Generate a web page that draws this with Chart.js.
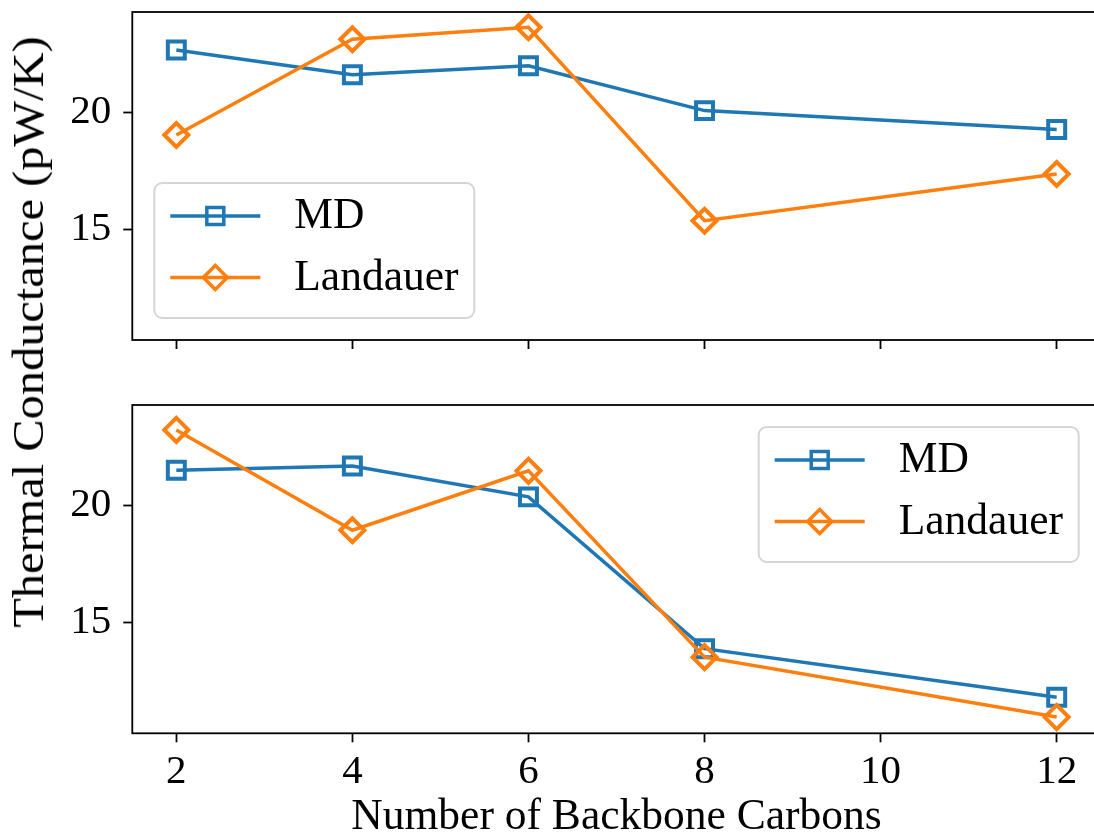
<!DOCTYPE html>
<html>
<head>
<meta charset="utf-8">
<script src="https://cdn.jsdelivr.net/npm/chart.js@4.4.0/dist/chart.umd.min.js"></script>
<style>
html, body { margin: 0; padding: 0; overflow: hidden; background: #fff; width: 1094px; height: 837px; }
#wrap { position: relative; width: 1102px; height: 837px; }
#topChart { position: absolute; left: 0; top: 0; }
#bottomChart { position: absolute; left: 0; top: 395px; }
#ylabel {
    position: absolute; left: 29px; top: 332px;
    transform: translate(-50%, -50%) rotate(-90deg) scaleX(1.1);
    font: 44px "Liberation Serif"; line-height: 1; white-space: nowrap; color: #000;
}
</style>
</head>
<body>
<div id="wrap">
    <canvas id="topChart" width="1102" height="360"></canvas>
    <canvas id="bottomChart" width="1102" height="442"></canvas>
    <div id="ylabel">Thermal Conductance (pW/K)</div>
</div>
<script>
var carbons = [2, 4, 6, 8, 12];
var mdTop = [22.64, 21.59, 21.97, 20.06, 19.26];
var landauerTop = [19.02, 23.10, 23.61, 15.37, 17.36];
var mdBottom = [21.48, 21.66, 20.35, 13.89, 11.82];
var landauerBottom = [23.20, 18.93, 21.46, 13.53, 10.98];
var xTicks = [2, 4, 6, 8, 10, 12];
var yTicks = [15, 20];
var xRange = [1.5, 12.5];
var yRange = [10.29, 24.26];

var blue = '#1f77b4',
    orange = '#ff7f0e',
    serif = '"Liberation Serif", "Times New Roman", serif';

// axes box on top of the lines, like matplotlib spines
var frame = {
    id: 'frame',
    afterDatasetsDraw: function (chart) {
        var a = chart.chartArea, ctx = chart.ctx;
        ctx.save();
        ctx.strokeStyle = '#000';
        ctx.lineWidth = 1.8;
        ctx.strokeRect(a.left, a.top, a.right - a.left, a.bottom - a.top);
        ctx.restore();
    }
};

// legend with the marker sitting on the middle of the line sample
var boxLegend = {
    id: 'boxLegend',
    afterDatasetsDraw: function (chart, args, opts) {
        var a = chart.chartArea, ctx = chart.ctx;
        var w = 320, h = 135;
        var x = opts.corner === 'lowerLeft' ? a.left + 22 : a.right - 22 - w;
        var y = opts.corner === 'lowerLeft' ? a.bottom - 22 - h : a.top + 22;
        ctx.save();
        ctx.beginPath();
        ctx.roundRect(x, y, w, h, 8);
        ctx.fillStyle = 'rgba(255,255,255,0.8)';
        ctx.fill();
        ctx.strokeStyle = '#d6d6d6';
        ctx.lineWidth = 2;
        ctx.stroke();
        chart.data.datasets.forEach(function (ds, row) {
            var py = y + 33 + row * 61.5;
            ctx.strokeStyle = ds.borderColor;
            ctx.lineWidth = ds.borderWidth;
            ctx.beginPath();
            ctx.moveTo(x + 16, py);
            ctx.lineTo(x + 106, py);
            ctx.stroke();
            ctx.fillStyle = 'rgba(0,0,0,0)';
            Chart.helpers.drawPoint(ctx, {
                pointStyle: ds.pointStyle, radius: ds.pointRadius,
                rotation: 0, borderWidth: ds.pointBorderWidth
            }, x + 61, py);
            ctx.fillStyle = '#000';
            ctx.font = '43.5px ' + serif;
            ctx.textBaseline = 'middle';
            ctx.textAlign = 'left';
            ctx.fillText(ds.label, x + 140, py + 1);
        });
        ctx.restore();
    }
};

function series(label, values, color, style, order) {
    return {
        label: label,
        data: carbons.map(function (c, i) { return {x: c, y: values[i]}; }),
        borderColor: color,
        borderWidth: 3.5,
        pointStyle: style,
        pointRadius: 12,
        pointBorderWidth: 4,
        pointBorderColor: color,
        pointBackgroundColor: 'rgba(0,0,0,0)',
        order: order,
        clip: false
    };
}

function drawPanel(id, md, landauer, corner, bottom) {
    return new Chart(document.getElementById(id), {
        type: 'line',
        data: {
            datasets: [
                series('MD', md, blue, 'rect', 1),
                series('Landauer', landauer, orange, 'rectRot', 0)
            ]
        },
        options: {
            responsive: false,
            animation: false,
            layout: {autoPadding: false, padding: {top: bottom ? 10 : 12, right: 1.3, left: 0, bottom: 0}},
            plugins: {
                legend: {display: false},
                tooltip: {enabled: false},
                boxLegend: {corner: corner}
            },
            scales: {
                x: {
                    type: 'linear',
                    min: xRange[0],
                    max: xRange[1],
                    afterBuildTicks: function (s) {
                        s.ticks = xTicks.map(function (v) { return {value: v}; });
                    },
                    afterFit: function (s) {
                        s.height = bottom ? 103.7 : 20;
                        s.paddingLeft = 0;
                        s.paddingRight = 0;
                    },
                    border: {display: false},
                    grid: {drawOnChartArea: false, tickLength: 9, tickWidth: 1.8, tickColor: '#000'},
                    ticks: {display: bottom, color: '#000', padding: 5, font: {family: serif, size: 41}},
                    title: {
                        display: bottom,
                        text: 'Number of Backbone Carbons',
                        color: '#000',
                        font: {family: serif, size: 43.5, lineHeight: 1},
                        padding: {top: 0, bottom: -2}
                    }
                },
                y: {
                    min: yRange[0],
                    max: yRange[1],
                    afterBuildTicks: function (s) {
                        s.ticks = yTicks.map(function (v) { return {value: v}; });
                    },
                    afterFit: function (s) {
                        s.width = 132.3;
                        s.paddingTop = 0;
                        s.paddingBottom = 0;
                    },
                    border: {display: false},
                    grid: {drawOnChartArea: false, tickLength: 9, tickWidth: 1.8, tickColor: '#000'},
                    ticks: {color: '#000', padding: 12, font: {family: serif, size: 41}}
                }
            }
        },
        plugins: [frame, boxLegend]
    });
}

drawPanel('topChart', mdTop, landauerTop, 'lowerLeft', false);
drawPanel('bottomChart', mdBottom, landauerBottom, 'upperRight', true);
</script>
</body>
</html>
